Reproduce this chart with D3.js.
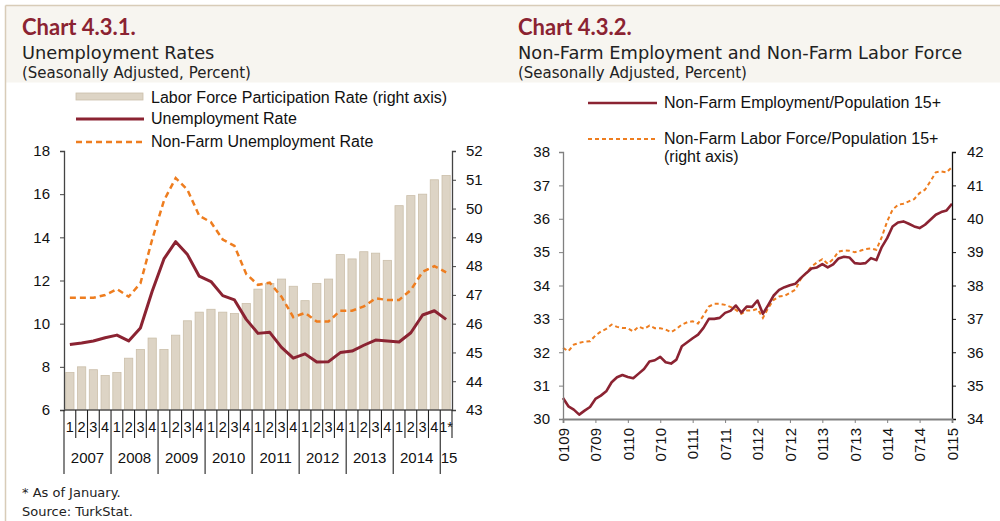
<!DOCTYPE html>
<html>
<head>
<meta charset="utf-8">
<script src="https://cdn.jsdelivr.net/npm/d3@7"></script>
<style>
  body { margin: 0; background: #fff; }
  .hd { font-family: "DejaVu Sans", sans-serif; fill: #222; }
  .ttl { font-family: Lato, sans-serif; font-weight: bold; fill: #8b2332; }
  .lab { font-family: "Liberation Sans", Arial, sans-serif; fill: #111; }
  .axis text { font-family: "Liberation Sans", Arial, sans-serif; font-size: 15px; fill: #111; }
</style>
</head>
<body>
<svg id="chart" width="1000" height="521"></svg>
<script>
// ---- chart 4.3.1 data (quarterly, 2007Q1 .. 2015 Jan) ----
const quarterLabels = ["1","2","3","4","1","2","3","4","1","2","3","4","1","2","3","4",
  "1","2","3","4","1","2","3","4","1","2","3","4","1","2","3","4","1*"];
const yearLabels = ["2007","2008","2009","2010","2011","2012","2013","2014","15"];
const yearLength = [4,4,4,4,4,4,4,4,1];
const participation = [44.3,44.5,44.4,44.2, 44.3,44.8,45.1,45.5, 45.1,45.6,46.1,46.4,
  46.5,46.4,46.35,46.7, 47.2,47.4,47.55,47.3, 46.8,47.4,47.55,48.4,
  48.25,48.5,48.45,48.2, 50.1,50.45,50.5,51.0, 51.15];
const unemployment = [9.03,9.1,9.2,9.35, 9.47,9.2,9.8,11.5, 13.0,13.8,13.2,12.2,
  11.95,11.3,11.1,10.2, 9.55,9.6,8.9,8.4, 8.6,8.22,8.24,8.66,
  8.73,9.0,9.24,9.2, 9.15,9.58,10.4,10.6, 10.2];
const nonFarmUnemployment = [11.2,11.2,11.2,11.33, 11.6,11.25,11.87,13.9, 15.7,16.75,16.2,15.0,
  14.7,13.9,13.6,12.3, 11.8,11.9,11.25,10.3, 10.5,10.1,10.1,10.6,
  10.6,10.8,11.17,11.1, 11.1,11.56,12.4,12.67, 12.38];

// ---- chart 4.3.2 data (monthly, Jan 2009 .. Jan 2015) ----
const monthTicks = ["0109","0709","0110","0710","0111","0711","0112","0712","0113","0713","0114","0714","0115"];
const nonFarmEmployment = [30.63,30.38,30.28,30.13,30.25,30.36,30.6,30.7,30.83,31.1,
  31.25,31.32,31.26,31.22,31.36,31.5,31.72,31.76,31.86,31.7,
  31.66,31.78,32.18,32.3,32.42,32.53,32.73,33.0,33.0,33.03,
  33.18,33.24,33.4,33.19,33.37,33.36,33.55,33.15,33.42,33.7,
  33.87,33.95,34.01,34.05,34.22,34.37,34.51,34.54,34.64,34.54,
  34.63,34.81,34.86,34.84,34.67,34.65,34.67,34.82,34.76,35.15,
  35.42,35.77,35.89,35.92,35.85,35.77,35.72,35.82,35.97,36.12,
  36.2,36.25,36.45];
const nonFarmLaborForce = [36.13,36.03,36.23,36.28,36.32,36.33,36.5,36.62,36.7,36.83,
  36.76,36.73,36.72,36.62,36.77,36.7,36.8,36.72,36.72,36.68,
  36.6,36.7,36.83,36.9,36.93,36.86,37.1,37.37,37.45,37.45,
  37.42,37.36,37.27,37.15,37.25,37.25,37.3,37.03,37.33,37.57,
  37.67,37.69,37.78,37.87,38.19,38.37,38.57,38.69,38.79,38.65,
  38.79,39.02,39.05,39.04,39.0,39.04,39.09,39.11,39.07,39.45,
  39.92,40.27,40.42,40.45,40.52,40.59,40.77,40.87,41.12,41.39,
  41.42,41.39,41.55];

const RED = "#8b2332", ORANGE = "#ee7d1f", BAR = "#ddd4c5", BAR_EDGE = "#cbbfaa";

const svg = d3.select("#chart");

// panel frame + header strip
svg.append("rect").attr("x", 5.5).attr("y", 5.5).attr("width", 1000).attr("height", 77)
  .attr("fill", "#f7f5f0");
svg.append("line").attr("x1", 5.5).attr("x2", 1000).attr("y1", 5.5).attr("y2", 5.5)
  .attr("stroke", "#d8ccb8").attr("stroke-width", 1.5);
svg.append("line").attr("x1", 5.5).attr("x2", 5.5).attr("y1", 5.5).attr("y2", 521)
  .attr("stroke", "#d8ccb8").attr("stroke-width", 1.5);

function header(x, title, sub1, sub2) {
  svg.append("text").attr("class", "ttl").attr("x", x).attr("y", 35)
    .style("font-size", "22px").text(title);
  svg.append("text").attr("class", "hd").attr("x", x).attr("y", 59)
    .style("font-size", "17.8px").text(sub1);
  svg.append("text").attr("class", "hd").attr("x", x).attr("y", 78)
    .style("font-size", "15px").text(sub2);
}
header(22, "Chart 4.3.1.", "Unemployment Rates", "(Seasonally Adjusted, Percent)");
header(518, "Chart 4.3.2.", "Non-Farm Employment and Non-Farm Labor Force", "(Seasonally Adjusted, Percent)");

// ================= chart 4.3.1 =================
{
  const left = 64, right = 452, top = 151, bottom = 410;
  const idx = d3.range(quarterLabels.length);
  const x = d3.scaleBand().domain(idx).range([left, right]).paddingInner(0.3).paddingOuter(0.15);
  const step = x.step();
  const cx = i => left + step * (i + 0.5);
  const yL = d3.scaleLinear().domain([6, 18]).range([bottom, top]);
  const yR = d3.scaleLinear().domain([43, 52]).range([bottom, top]);

  const g = svg.append("g");
  g.selectAll("rect.bar").data(participation).join("rect")
    .attr("class", "bar")
    .attr("x", (d, i) => cx(i) - x.bandwidth() / 2)
    .attr("width", x.bandwidth())
    .attr("y", d => yR(d))
    .attr("height", d => bottom - yR(d))
    .attr("fill", BAR).attr("stroke", BAR_EDGE).attr("stroke-width", 0.8);

  const line = arr => d3.line().x((d, i) => cx(i)).y(d => yL(d))(arr);
  g.append("path").attr("d", line(nonFarmUnemployment)).attr("fill", "none")
    .attr("stroke", ORANGE).attr("stroke-width", 2.5).attr("stroke-dasharray", "6,4");
  g.append("path").attr("d", line(unemployment)).attr("fill", "none")
    .attr("stroke", RED).attr("stroke-width", 3).attr("stroke-linejoin", "round");

  // axes
  const ax = svg.append("g").attr("class", "axis").attr("transform", `translate(${left},0)`)
    .call(d3.axisLeft(yL).tickValues(d3.range(6, 19, 2)).tickSize(4).tickPadding(10));
  const axr = svg.append("g").attr("class", "axis").attr("transform", `translate(${right},0)`)
    .call(d3.axisRight(yR).tickValues(d3.range(43, 53)).tickSize(4).tickPadding(10));
  [ax, axr].forEach(a => {
    a.select(".domain").attr("stroke", "#444").attr("stroke-width", 1.3);
    a.selectAll(".tick line").attr("stroke", "#444");
  });
  svg.append("line").attr("x1", left).attr("x2", right).attr("y1", bottom).attr("y2", bottom)
    .attr("stroke", "#555").attr("stroke-width", 1.3);

  // category axis: quarter labels with separators, years below
  const xa = svg.append("g");
  xa.selectAll("text.q").data(quarterLabels).join("text").attr("class", "lab")
    .attr("x", (d, i) => cx(i)).attr("y", 432).attr("text-anchor", "middle")
    .style("font-size", "14.5px").text(d => d);
  const starts = d3.cumsum([0].concat(yearLength));
  idx.concat([quarterLabels.length]).forEach(i => {
    const isYear = starts.includes(i) && i < quarterLabels.length;
    xa.append("line").attr("x1", left + step * i).attr("x2", left + step * i)
      .attr("y1", bottom).attr("y2", isYear ? 474 : 438)
      .attr("stroke", "#222").attr("stroke-width", 1.1);
  });
  yearLabels.forEach((yl, k) => {
    const mid = left + step * (starts[k] + yearLength[k] / 2);
    xa.append("text").attr("class", "lab").attr("x", mid + (k === 8 ? 3 : 0)).attr("y", 463)
      .attr("text-anchor", "middle").style("font-size", "15px").text(yl);
  });

  // legend
  const lg = svg.append("g").attr("class", "lab").style("font-size", "16px");
  lg.append("rect").attr("x", 76).attr("y", 93).attr("width", 67).attr("height", 7)
    .attr("fill", BAR).attr("stroke", BAR_EDGE).attr("stroke-width", 0.8);
  lg.append("text").attr("x", 151).attr("y", 103).text("Labor Force Participation Rate (right axis)");
  lg.append("line").attr("x1", 76).attr("x2", 144).attr("y1", 119).attr("y2", 119)
    .attr("stroke", RED).attr("stroke-width", 3);
  lg.append("text").attr("x", 151).attr("y", 124).text("Unemployment Rate");
  lg.append("line").attr("x1", 76).attr("x2", 144).attr("y1", 142).attr("y2", 142)
    .attr("stroke", ORANGE).attr("stroke-width", 2.5).attr("stroke-dasharray", "6,4");
  lg.append("text").attr("x", 151).attr("y", 147).text("Non-Farm Unemployment Rate");

  svg.append("text").attr("class", "hd").attr("x", 22).attr("y", 497).style("font-size", "13px")
    .text("* As of January.");
  svg.append("text").attr("class", "hd").attr("x", 22).attr("y", 516).style("font-size", "13px")
    .text("Source: TurkStat.");
}

// ================= chart 4.3.2 =================
{
  const left = 563, right = 952, top = 152, bottom = 419;
  const x = d3.scaleLinear().domain([0, nonFarmEmployment.length - 1]).range([left, right]);
  const yL = d3.scaleLinear().domain([30, 38]).range([bottom, top]);
  const yR = d3.scaleLinear().domain([34, 42]).range([bottom, top]);

  const g = svg.append("g");
  g.append("path").attr("fill", "none").attr("stroke", ORANGE).attr("stroke-width", 2)
    .attr("stroke-dasharray", "4,3")
    .attr("d", d3.line().x((d, i) => x(i)).y(d => yR(d))(nonFarmLaborForce));
  g.append("path").attr("fill", "none").attr("stroke", RED).attr("stroke-width", 2.6)
    .attr("stroke-linejoin", "round")
    .attr("d", d3.line().x((d, i) => x(i)).y(d => yL(d))(nonFarmEmployment));

  const ax = svg.append("g").attr("class", "axis").attr("transform", `translate(${left},0)`)
    .call(d3.axisLeft(yL).tickValues(d3.range(30, 39)).tickSize(4).tickPadding(9));
  ax.select(".domain").attr("stroke", "#808080").attr("stroke-width", 1.3);
  ax.selectAll(".tick line").attr("stroke", "#808080");
  const axr = svg.append("g").attr("class", "axis").attr("transform", `translate(${right},0)`)
    .call(d3.axisRight(yR).tickValues(d3.range(34, 43)).tickSize(4).tickPadding(11));
  axr.select(".domain").attr("stroke", "#111").attr("stroke-width", 1.3);
  axr.selectAll(".tick line").attr("stroke", "#111");

  const axb = svg.append("g").attr("class", "axis").attr("transform", `translate(0,${bottom})`)
    .call(d3.axisBottom(x).tickValues(d3.range(0, 73, 6)).tickSize(4)
      .tickFormat(d => monthTicks[d / 6]));
  axb.select(".domain").attr("stroke", "#808080").attr("stroke-width", 1.8);
  axb.selectAll(".tick line").attr("stroke", "#808080");
  axb.selectAll(".tick text").attr("transform", "rotate(-90)")
    .attr("x", -9).attr("y", 0).attr("dy", "0.35em").attr("text-anchor", "end");

  const lg = svg.append("g").attr("class", "lab").style("font-size", "16px");
  lg.append("line").attr("x1", 588).attr("x2", 657).attr("y1", 103).attr("y2", 103)
    .attr("stroke", RED).attr("stroke-width", 2.5);
  lg.append("text").attr("x", 664).attr("y", 108).text("Non-Farm Employment/Population 15+");
  lg.append("line").attr("x1", 588).attr("x2", 657).attr("y1", 139).attr("y2", 139)
    .attr("stroke", ORANGE).attr("stroke-width", 2).attr("stroke-dasharray", "4,3");
  lg.append("text").attr("x", 664).attr("y", 144).text("Non-Farm Labor Force/Population 15+");
  lg.append("text").attr("x", 664).attr("y", 162).text("(right axis)");
}
</script>
</body>
</html>
